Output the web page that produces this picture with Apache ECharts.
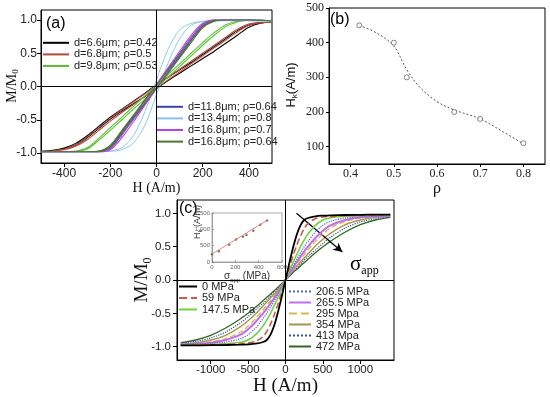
<!DOCTYPE html>
<html><head><meta charset="utf-8">
<script src="https://cdn.jsdelivr.net/npm/echarts@6/dist/echarts.min.js"></script>
<style>html,body{margin:0;padding:0;background:#fff}#c{width:550px;height:397px}</style>
</head><body><div id="c"></div>
<script>
// ---------- Panel (a): hysteresis loops, H grid (A/m) ----------
const Ha = [-500,-450,-400,-350,-300,-250,-200,-150,-100,-50,0,50,100,150,200,250,300,350,400,450,500];
const aNames = ['d=6.6μm; ρ=0.42','d=6.8μm; ρ=0.5','d=9.8μm; ρ=0.53','d=11.8μm; ρ=0.64','d=13.4μm; ρ=0.8','d=16.8μm; ρ=0.7','d=16.8μm; ρ=0.64'];
const blackUp = [-0.975,-0.965,-0.94,-0.88,-0.77,-0.63,-0.49,-0.37,-0.26,-0.15,-0.03,0.09,0.2,0.31,0.42,0.53,0.65,0.77,0.89,0.95,0.97];
const blackDn = [-0.975,-0.96,-0.925,-0.855,-0.74,-0.6,-0.46,-0.34,-0.22,-0.1,0.03,0.14,0.25,0.36,0.48,0.6,0.72,0.84,0.925,0.96,0.97];
const brownUp = [-0.975,-0.965,-0.95,-0.9,-0.8,-0.66,-0.52,-0.39,-0.27,-0.15,-0.03,0.1,0.22,0.34,0.46,0.58,0.7,0.82,0.92,0.955,0.965];
const brownDn = [-0.975,-0.965,-0.94,-0.88,-0.76,-0.62,-0.48,-0.35,-0.23,-0.11,0.02,0.14,0.26,0.38,0.5,0.62,0.74,0.86,0.94,0.96,0.965];
const greenUp = [-0.98,-0.98,-0.98,-0.975,-0.94,-0.81,-0.66,-0.5,-0.34,-0.19,-0.03,0.14,0.3,0.46,0.62,0.77,0.9,0.97,0.995,1.0,0.99];
const greenDn = [-0.98,-0.98,-0.98,-0.97,-0.92,-0.78,-0.62,-0.46,-0.3,-0.14,0.02,0.18,0.34,0.5,0.66,0.81,0.93,0.985,1.0,1.0,0.99];
const blueUp  = [-0.98,-0.98,-0.98,-0.98,-0.98,-0.98,-0.93,-0.72,-0.49,-0.26,-0.03,0.21,0.45,0.69,0.9,0.99,1.0,1.0,1.0,0.995,0.99];
const blueDn  = [-0.98,-0.98,-0.98,-0.98,-0.98,-0.975,-0.9,-0.68,-0.45,-0.21,0.03,0.26,0.5,0.73,0.93,1.0,1.0,1.0,1.0,0.995,0.99];
const lightUp = [-0.98,-0.98,-0.98,-0.98,-0.98,-0.98,-0.975,-0.95,-0.85,-0.58,-0.12,0.35,0.72,0.92,0.975,0.985,0.99,0.99,0.99,0.985,0.98];
const lightDn = [-0.98,-0.98,-0.98,-0.98,-0.98,-0.98,-0.97,-0.92,-0.74,-0.38,0.1,0.56,0.85,0.95,0.98,0.99,0.99,0.99,0.99,0.985,0.98];
const magUp   = [-0.98,-0.98,-0.98,-0.98,-0.98,-0.98,-0.95,-0.77,-0.53,-0.28,-0.03,0.23,0.48,0.73,0.93,0.995,1.0,1.0,1.0,0.995,0.99];
const magDn   = [-0.98,-0.98,-0.98,-0.98,-0.98,-0.98,-0.93,-0.73,-0.48,-0.23,0.03,0.28,0.53,0.77,0.95,1.0,1.0,1.0,1.0,0.995,0.99];
const oliveUp = [-0.98,-0.98,-0.98,-0.98,-0.98,-0.975,-0.91,-0.7,-0.47,-0.25,-0.02,0.2,0.43,0.66,0.88,0.98,1.0,1.0,1.0,0.995,0.99];
const oliveDn = [-0.98,-0.98,-0.98,-0.98,-0.98,-0.97,-0.88,-0.66,-0.43,-0.2,0.02,0.25,0.47,0.7,0.91,0.99,1.0,1.0,1.0,0.995,0.99];
const aTicksX = [-400,-200,0,200,400];
const aTicksY = [-1,-0.5,0,0.5,1];

// ---------- Panel (b): Hk vs rho ----------
const rho = [0.42,0.5,0.53,0.64,0.7,0.8];
const Hk = [450,400,300,200,180,110];
const fitRho = [0.42,0.46,0.5,0.53,0.56,0.6,0.64,0.7,0.75,0.8];
const fitHk  = [450,428,390,322,272,230,206,180,145,108];
const bTicksX = [0.4,0.5,0.6,0.7,0.8];
const bTicksY = [100,200,300,400,500];

// ---------- Panel (c): M/M0 vs H under applied stress ----------
const Hc = [-1400,-1200,-1000,-800,-600,-500,-400,-300,-250,-200,-150,-100,-50,0,50,100,150,200,250,300,400,500,600,800,1000,1200,1400];
const cNames = ['0 MPa','59 MPa','147.5 MPa','206.5 MPa','265.5 MPa','295 Mpa','354 MPa','413 Mpa','472 MPa'];
const m0   = [-0.98,-0.98,-0.978,-0.975,-0.97,-0.965,-0.955,-0.93,-0.9,-0.82,-0.68,-0.48,-0.25,0,0.25,0.48,0.68,0.82,0.9,0.93,0.955,0.965,0.97,0.975,0.978,0.98,0.98];
const m59  = [-0.98,-0.975,-0.97,-0.965,-0.955,-0.945,-0.92,-0.85,-0.77,-0.66,-0.52,-0.36,-0.18,0,0.18,0.36,0.52,0.66,0.77,0.85,0.92,0.945,0.955,0.965,0.97,0.975,0.98];
const m147 = [-0.975,-0.97,-0.965,-0.955,-0.935,-0.9,-0.82,-0.69,-0.6,-0.5,-0.38,-0.26,-0.13,0,0.13,0.26,0.38,0.5,0.6,0.69,0.82,0.9,0.935,0.955,0.965,0.97,0.975];
const m206 = [-0.97,-0.96,-0.95,-0.93,-0.88,-0.82,-0.72,-0.58,-0.5,-0.41,-0.31,-0.21,-0.11,0,0.11,0.21,0.31,0.41,0.5,0.58,0.72,0.82,0.88,0.93,0.95,0.96,0.97];
const m265 = [-0.965,-0.955,-0.94,-0.9,-0.82,-0.74,-0.63,-0.5,-0.43,-0.35,-0.27,-0.18,-0.09,0,0.09,0.18,0.27,0.35,0.43,0.5,0.63,0.74,0.82,0.9,0.94,0.955,0.965];
const m295 = [-0.96,-0.95,-0.93,-0.88,-0.78,-0.69,-0.58,-0.45,-0.38,-0.31,-0.24,-0.16,-0.08,0,0.08,0.16,0.24,0.31,0.38,0.45,0.58,0.69,0.78,0.88,0.93,0.95,0.96];
const m354 = [-0.96,-0.94,-0.9,-0.83,-0.7,-0.61,-0.51,-0.39,-0.33,-0.27,-0.21,-0.14,-0.07,0,0.07,0.14,0.21,0.27,0.33,0.39,0.51,0.61,0.7,0.83,0.9,0.94,0.96];
const m413 = [-0.95,-0.92,-0.87,-0.78,-0.64,-0.55,-0.45,-0.35,-0.3,-0.24,-0.18,-0.12,-0.06,0,0.06,0.12,0.18,0.24,0.3,0.35,0.45,0.55,0.64,0.78,0.87,0.92,0.95];
const m472 = [-0.94,-0.9,-0.83,-0.72,-0.58,-0.5,-0.41,-0.31,-0.26,-0.21,-0.16,-0.11,-0.055,0,0.055,0.11,0.16,0.21,0.26,0.31,0.41,0.5,0.58,0.72,0.83,0.9,0.94];
const cTicksX = [-1000,-500,0,500,1000];
const cTicksY = [-1,-0.5,0,0.5,1];
const arrowStart = [147,1.0];
const arrowEnd = [760,0.42];

// inset: Hk vs applied stress
const sigApp = [0,59,147.5,206.5,265.5,295,354,413,472];
const HkSig  = [240,330,530,690,775,830,960,1140,1270];
const fitSig = [0,472];
const fitHkSig = [245,1275];

const SANS = 'Liberation Sans', SERIF = 'Liberation Serif';
function loop(up, dn){
  const a = Ha.map((h,i)=>[h,up[i]]);
  const b = Ha.map((h,i)=>[h,dn[i]]).reverse();
  return a.concat(b);
}
function pairs(xs, ys){ return xs.map((x,i)=>[x,ys[i]]); }

function axisCommon(o){
  return Object.assign({
    type:'value', splitLine:{show:false},
    axisLine:{show:true, onZero:false, lineStyle:{color:'#000', width:1}},
  }, o);
}

const aColors = ['#000000','#b24a3a','#5cc232','#4040b4','#86c4ea','#b444e4','#4e7430'];
const aLoops = [[blackUp,blackDn],[brownUp,brownDn],[greenUp,greenDn],[blueUp,blueDn],[lightUp,lightDn],[magUp,magDn],[oliveUp,oliveDn]];
const aSeries = aLoops.map((p,i)=>({
  type:'line', name:aNames[i], xAxisIndex:0, yAxisIndex:0, symbol:'none', smooth:0.3,
  data: loop(p[0],p[1]), lineStyle:{color:aColors[i], width: i===4 ? 0.9 : 1.1}, itemStyle:{color:aColors[i]},
  silent:true, z: 3
}));
aSeries[0].markLine = {silent:true, symbol:['none','none'], label:{show:false}, animation:false,
  lineStyle:{color:'#000', width:1, type:'solid'}, emphasis:{disabled:true}, data:[{xAxis:0},{yAxis:0}]};

const cColors = ['#000000','#cc5a48','#6ed23c','#4a62e0','#c46af2','#e0b84a','#a89448','#34509c','#2e6a1e'];
const cTypes  = ['solid','dashed','solid','dotted','solid','dashed','solid','dotted','solid'];
const cWidths = [1.8,1.6,1.5,1.2,2.0,1.4,1.3,1.2,1.3];
const cData = [m0,m59,m147,m206,m265,m295,m354,m413,m472];
const cSeries = cData.map((m,i)=>({
  type:'line', name:cNames[i], xAxisIndex:2, yAxisIndex:2, symbol:'none', smooth:0.3,
  data: pairs(Hc,m), lineStyle:{color:cColors[i], width:cWidths[i], type:cTypes[i]}, itemStyle:{color:cColors[i]},
  silent:true, z: 10 - i
}));
cSeries[0].markLine = {silent:true, symbol:['none','none'], label:{show:false}, animation:false,
  lineStyle:{color:'#000', width:1, type:'solid'}, emphasis:{disabled:true}, data:[{xAxis:0},{yAxis:0}]};
cSeries[8].markLine = {silent:true, symbol:['none','arrow'], symbolSize:[7,9], label:{show:false}, animation:false,
  lineStyle:{color:'#000', width:1.3, type:'solid'}, emphasis:{disabled:true},
  data:[[{coord:arrowStart},{coord:arrowEnd}]]};

const legendBase = {orient:'vertical', padding:0, selectedMode:false, itemStyle:{opacity:0}};
const rotText = (x, y, text, fam, fs, sfs, color) => ({
  type:'text', x:x, y:y, rotation:Math.PI/2,
  style:{text:text, fontFamily:fam, fontSize:fs, fill:color, align:'center', verticalAlign:'middle',
    rich:{s:{fontSize:sfs, fontFamily:fam, fill:color, verticalAlign:'bottom', padding:[Math.round(sfs*0.9),0,0,0]}}}
});

const option = {
  animation:false,
  backgroundColor:'#fff',
  grid:[
    {left:41, top:10, width:231, height:153, show:true, borderColor:'#000', borderWidth:1},
    {left:329, top:8, width:216, height:156, show:true, borderColor:'#000', borderWidth:1},
    {left:177, top:200, width:217, height:160, show:true, borderColor:'#000', borderWidth:1},
    {left:212, top:213, width:70, height:49, show:true, borderColor:'#777', borderWidth:0.6}
  ],
  xAxis:[
    axisCommon({gridIndex:0, min:-500, max:500,
      axisTick:{length:4, customValues:aTicksX, lineStyle:{color:'#000'}},
      axisLabel:{customValues:aTicksX, formatter:v=>String(v), fontFamily:SANS, fontSize:12, color:'#222', margin:5},
      name:'H (A/m)', nameLocation:'middle', nameGap:15, nameTextStyle:{fontFamily:SERIF, fontSize:14, color:'#111'}}),
    axisCommon({gridIndex:1, min:0.35, max:0.85,
      axisTick:{length:3, customValues:bTicksX, lineStyle:{color:'#000'}},
      axisLabel:{customValues:bTicksX, formatter:v=>v.toFixed(1), fontFamily:SERIF, fontSize:12, color:'#222', margin:4},
      name:'ρ', nameLocation:'middle', nameGap:17, nameTextStyle:{fontFamily:SERIF, fontSize:16, color:'#111'}}),
    axisCommon({gridIndex:2, min:-1450, max:1450,
      axisTick:{length:4, customValues:cTicksX, lineStyle:{color:'#000'}},
      axisLabel:{customValues:cTicksX, formatter:v=>String(v), fontFamily:SANS, fontSize:11.5, color:'#222', margin:4},
      name:'H (A/m)', nameLocation:'middle', nameGap:16, nameTextStyle:{fontFamily:SERIF, fontSize:19, color:'#111'}}),
    axisCommon({gridIndex:3, min:0, max:600, interval:200,
      axisLine:{show:true, onZero:false, lineStyle:{color:'#777', width:0.6}},
      axisTick:{inside:true, length:2, lineStyle:{color:'#777', width:0.6}},
      axisLabel:{fontFamily:SANS, fontSize:6, color:'#666', margin:2},
      name:'σ{s|app} (MPa)', nameLocation:'middle', nameGap:5,
      nameTextStyle:{fontFamily:SANS, fontSize:10, color:'#333', rich:{s:{fontSize:6, fontFamily:SANS, color:'#333', verticalAlign:'bottom', padding:[8,0,0,0]}}}})
  ],
  yAxis:[
    axisCommon({gridIndex:0, min:-1.15, max:1.15,
      axisTick:{length:4, customValues:aTicksY, lineStyle:{color:'#000'}},
      axisLabel:{customValues:aTicksY, formatter:v=>v.toFixed(1), fontFamily:SANS, fontSize:12, color:'#222', margin:4}}),
    axisCommon({gridIndex:1, min:50, max:500,
      axisTick:{length:3, customValues:bTicksY, lineStyle:{color:'#000'}},
      axisLabel:{customValues:bTicksY, fontFamily:SERIF, fontSize:12, color:'#222', margin:5}}),
    axisCommon({gridIndex:2, min:-1.2, max:1.2,
      axisTick:{length:4, customValues:cTicksY, lineStyle:{color:'#000'}},
      axisLabel:{customValues:cTicksY, formatter:v=>v.toFixed(1), fontFamily:SANS, fontSize:11.5, color:'#222', margin:6}}),
    axisCommon({gridIndex:3, min:0, max:1500, interval:500,
      axisLine:{show:true, onZero:false, lineStyle:{color:'#777', width:0.6}},
      axisTick:{inside:true, length:2, lineStyle:{color:'#777', width:0.6}},
      axisLabel:{fontFamily:SANS, fontSize:6, color:'#666', margin:2}})
  ],
  legend:[
    Object.assign({data:aNames.slice(0,3), left:42, top:37, itemWidth:26, itemHeight:14.5, itemGap:0,
      textStyle:{fontFamily:SANS, fontSize:11, color:'#222'}}, legendBase),
    Object.assign({data:aNames.slice(3), left:156, top:101, itemWidth:26, itemHeight:14.5, itemGap:0,
      textStyle:{fontFamily:SANS, fontSize:11, color:'#222'}}, legendBase),
    Object.assign({data:cNames.slice(0,3), left:178, top:281, itemWidth:18, itemHeight:11, itemGap:0.5,
      textStyle:{fontFamily:SANS, fontSize:11, color:'#222'}}, legendBase),
    Object.assign({data:cNames.slice(3), left:288, top:286, itemWidth:22, itemHeight:11.5, itemGap:0,
      textStyle:{fontFamily:SANS, fontSize:11, color:'#222'}}, legendBase)
  ],
  graphic:[
    {type:'text', left:46, top:16, style:{text:'(a)', font:'16px "Liberation Sans"', fill:'#000'}},
    {type:'text', left:330, top:12, style:{text:'(b)', font:'16px "Liberation Sans"', fill:'#000'}},
    {type:'text', left:179, top:201, style:{text:'(c)', font:'16px "Liberation Sans"', fill:'#000'}},
    {type:'text', left:350, top:254, style:{text:'{a|σ}{b|app}', rich:{
      a:{fontFamily:SERIF, fontSize:21, fill:'#000'},
      b:{fontFamily:SERIF, fontSize:12, fill:'#000', verticalAlign:'bottom', padding:[12,0,0,0]}}}},
    rotText(12, 86, 'M/M{s|0}', SERIF, 14, 9, '#111'),
    rotText(291, 85, 'H{s|k}(A/m)', SANS, 13, 8, '#111'),
    rotText(142, 280, 'M/M{s|0}', SERIF, 19, 12, '#111'),
    rotText(198, 222, 'H{s|k} (A/m)', SANS, 9, 6, '#333')
  ],
  series: aSeries.concat([
    {type:'line', xAxisIndex:1, yAxisIndex:1, symbol:'none', smooth:0.35, data:pairs(fitRho,fitHk),
      lineStyle:{color:'#555', width:1, type:[2,2]}, silent:true},
    {type:'scatter', xAxisIndex:1, yAxisIndex:1, symbol:'circle', symbolSize:5, data:pairs(rho,Hk),
      itemStyle:{color:'#fff', borderColor:'#555', borderWidth:0.9}, silent:true, z:5}
  ]).concat(cSeries).concat([
    {type:'line', xAxisIndex:3, yAxisIndex:3, symbol:'none', data:pairs(fitSig,fitHkSig),
      lineStyle:{color:'#e07a6e', width:0.9}, silent:true},
    {type:'scatter', xAxisIndex:3, yAxisIndex:3, symbol:'circle', symbolSize:2.5, data:pairs(sigApp,HkSig),
      itemStyle:{color:'#555'}, silent:true}
  ])
};
const chart = echarts.init(document.getElementById('c'));
chart.setOption(option);
</script></body></html>
